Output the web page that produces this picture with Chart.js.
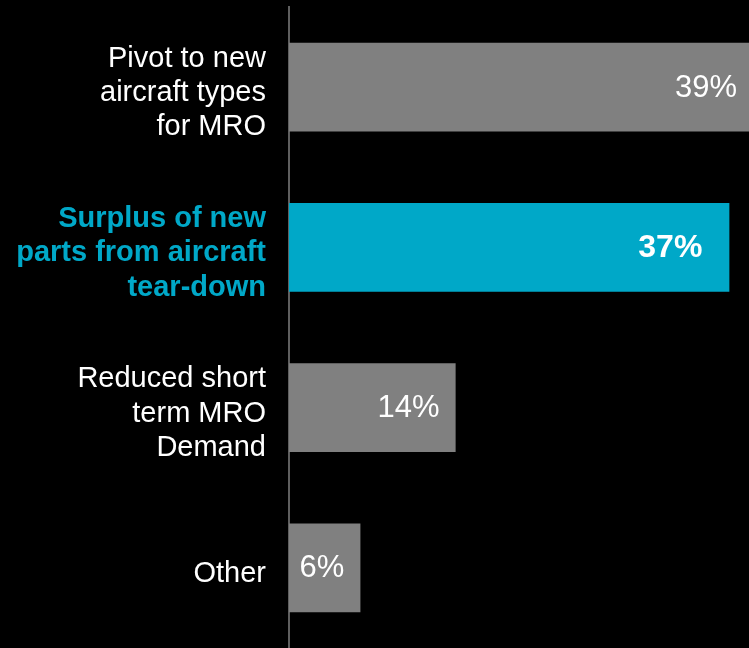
<!DOCTYPE html>
<html>
<head>
<meta charset="utf-8">
<script src="https://cdn.jsdelivr.net/npm/chart.js@4/dist/chart.umd.min.js"></script>
<style>
  html, body { margin: 0; padding: 0; background: #000; }
  #wrap { width: 749px; height: 648px; }
</style>
</head>
<body>
<div id="wrap"><canvas id="reasons"></canvas></div>
<script>
const categories = [
  ['Pivot to new', 'aircraft types', 'for MRO'],
  ['Surplus of new', 'parts from aircraft', 'tear-down'],
  ['Reduced short', 'term MRO', 'Demand'],
  ['Other']
]
const shares = [39, 37, 14, 6]
const highlightIndex = 1

const GREY = '#808080'
const CYAN = '#00A8C8'
const FONT = "'Liberation Sans', Arial, sans-serif"

// Percent labels drawn inside the right end of each bar
const valueLabels = {
  id: 'valueLabels',
  afterDatasetsDraw(chart) {
    const ctx = chart.ctx
    const meta = chart.getDatasetMeta(0)
    ctx.save()
    ctx.textAlign = 'right'
    ctx.textBaseline = 'middle'
    ctx.fillStyle = '#fff'
    meta.data.forEach((bar, i) => {
      const bold = i === highlightIndex
      ctx.font = (bold ? 'bold 32px ' : '31px ') + FONT
      const inset = bold ? 27 : 16
      ctx.fillText(shares[i] + '%', bar.x - inset, bar.y + 1)
    })
    ctx.restore()
  }
}

new Chart(document.getElementById('reasons'), {
  type: 'bar',
  data: {
    labels: categories,
    datasets: [{
      data: shares,
      backgroundColor: shares.map((v, i) => (i === highlightIndex ? CYAN : GREY)),
      borderWidth: 0,
      categoryPercentage: 0.555,
      barPercentage: 1
    }]
  },
  options: {
    indexAxis: 'y',
    responsive: true,
    maintainAspectRatio: false,
    animation: false,
    layout: { padding: { top: 7, right: 0, bottom: 0, left: 0 } },
    plugins: {
      legend: { display: false },
      tooltip: { enabled: false }
    },
    scales: {
      x: {
        display: false,
        min: 0,
        max: 38.65
      },
      y: {
        afterFit(scale) {
          // fixed label column, and no extra room for the tall first/last labels
          scale.width = 289
          scale.paddingTop = 0
          scale.paddingBottom = 0
        },
        grid: { display: false, drawTicks: false },
        border: { display: true, color: '#5f5f5f', width: 2 },
        ticks: {
          padding: 23,
          labelOffset: 6,
          color: (c) => (c.index === highlightIndex ? CYAN : '#fff'),
          font: (c) => ({
            family: FONT,
            size: 29,
            weight: c.index === highlightIndex ? 'bold' : 'normal',
            lineHeight: 1.18
          })
        }
      }
    }
  },
  plugins: [valueLabels]
})
</script>
</body>
</html>
